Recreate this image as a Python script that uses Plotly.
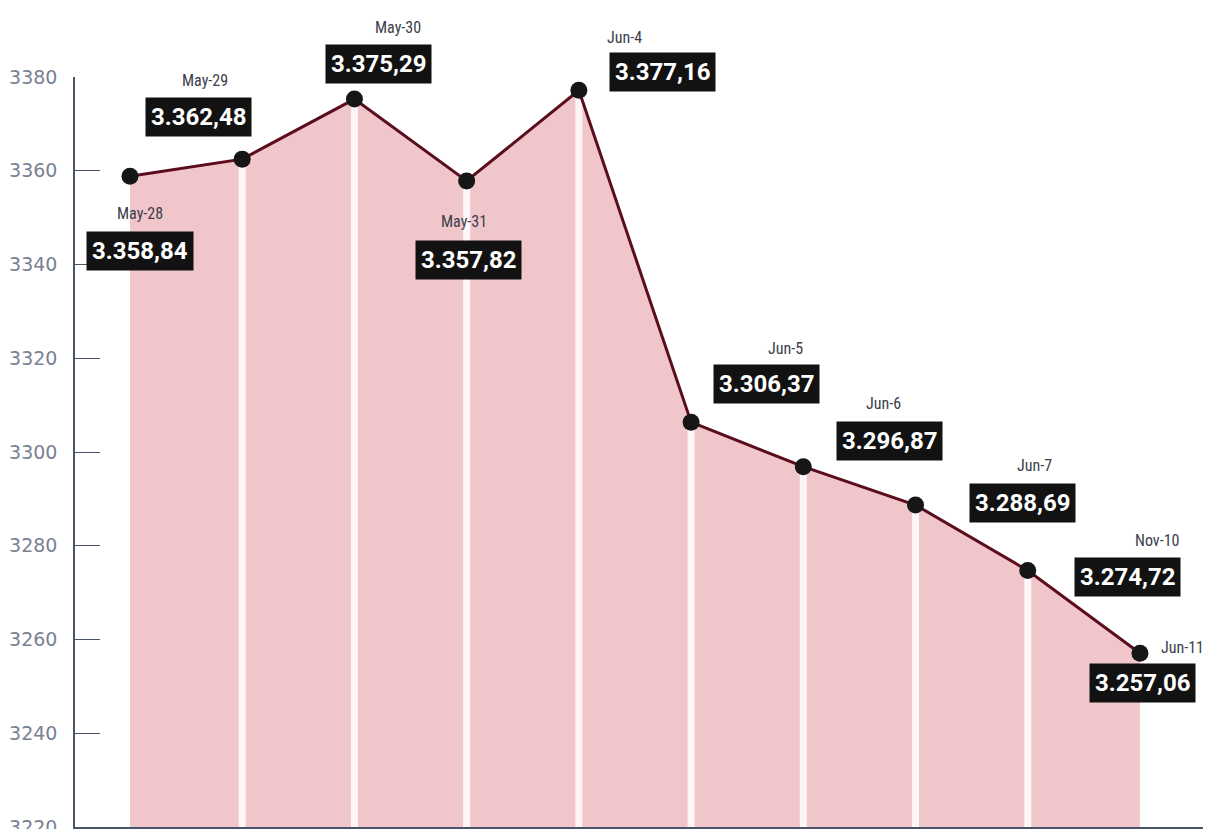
import plotly.graph_objects as go

dates = ["May-28", "May-29", "May-30", "May-31", "Jun-4", "Jun-5", "Jun-6", "Jun-7", "Nov-10", "Jun-11"]
values = [3358.84, 3362.48, 3375.29, 3357.82, 3377.16, 3306.37, 3296.87, 3288.69, 3274.72, 3257.06]
value_labels = ["3.358,84", "3.362,48", "3.375,29", "3.357,82", "3.377,16", "3.306,37", "3.296,87", "3.288,69", "3.274,72", "3.257,06"]
y_ticks = [3220, 3240, 3260, 3280, 3300, 3320, 3340, 3360, 3380]

# label offsets in pixels (date label, value box) relative to each point
date_shift = [(10, -37), (-37, 79), (44, 72), (-3, -41), (46, 53), (94, 74), (80, 63), (119, 40), (129, 30), (43, 6)]
box_shift = [(10, -75), (-44, 42), (24, 35), (2, -79), (84, 18), (75, 38), (86, 26), (107, 2), (100, -6), (3, -30)]

xs = list(range(len(values)))
base = y_ticks[0]

fig = go.Figure()

# pink area
fig.add_trace(go.Scatter(x=xs, y=values, mode="none", fill="tozeroy",
                         fillcolor="#f1c6cb", hoverinfo="skip", showlegend=False))

# white separators at interior points
sx, sy = [], []
for i in xs[1:-1]:
    sx += [i, i, None]
    sy += [base, values[i], None]
fig.add_trace(go.Scatter(x=sx, y=sy, mode="lines", line=dict(color="#fdf6f6", width=7),
                         hoverinfo="skip", showlegend=False))

# line + markers
fig.add_trace(go.Scatter(x=xs, y=values, mode="lines+markers",
                         line=dict(color="#5a0d1c", width=3),
                         marker=dict(color="#161616", size=17),
                         showlegend=False))

for i, (d, v, lab) in enumerate(zip(dates, values, value_labels)):
    fig.add_annotation(x=i, y=v, xref="x", yref="y", text=d, showarrow=False,
                       xshift=date_shift[i][0], yshift=date_shift[i][1],
                       font=dict(family="Roboto Condensed, Roboto", size=16, color="#3b404c"))
    fig.add_annotation(x=i, y=v, xref="x", yref="y", text="<b>" + lab + "</b>", showarrow=False,
                       xshift=box_shift[i][0], yshift=box_shift[i][1],
                       bgcolor="#121212", borderpad=5,
                       font=dict(family="Roboto", size=24, color="white"))

fig.update_xaxes(range=[-0.49, 9.633], showgrid=False, zeroline=False, showticklabels=False,
                 showline=True, linecolor="#4a5468", linewidth=1.5, ticks="", automargin=False)
fig.update_yaxes(range=[3220, 3380], tickvals=y_ticks, ticktext=[str(t) for t in y_ticks],
                 showgrid=False, zeroline=False, showline=True, linecolor="#4a5468", linewidth=1.5,
                 ticks="inside", ticklen=25, tickcolor="#4a5468", tickwidth=1.2,
                 ticklabelstandoff=12, ticklabeloverflow="allow", automargin=False,
                 tickfont=dict(family="DejaVu Sans", size=19, color="#7a8192"))

# margins compensate for the 8px default page margin
fig.update_layout(width=1211, height=829, margin=dict(l=67, r=8, t=69, b=10),
                  plot_bgcolor="white", paper_bgcolor="white")

fig.write_html("out.html")
